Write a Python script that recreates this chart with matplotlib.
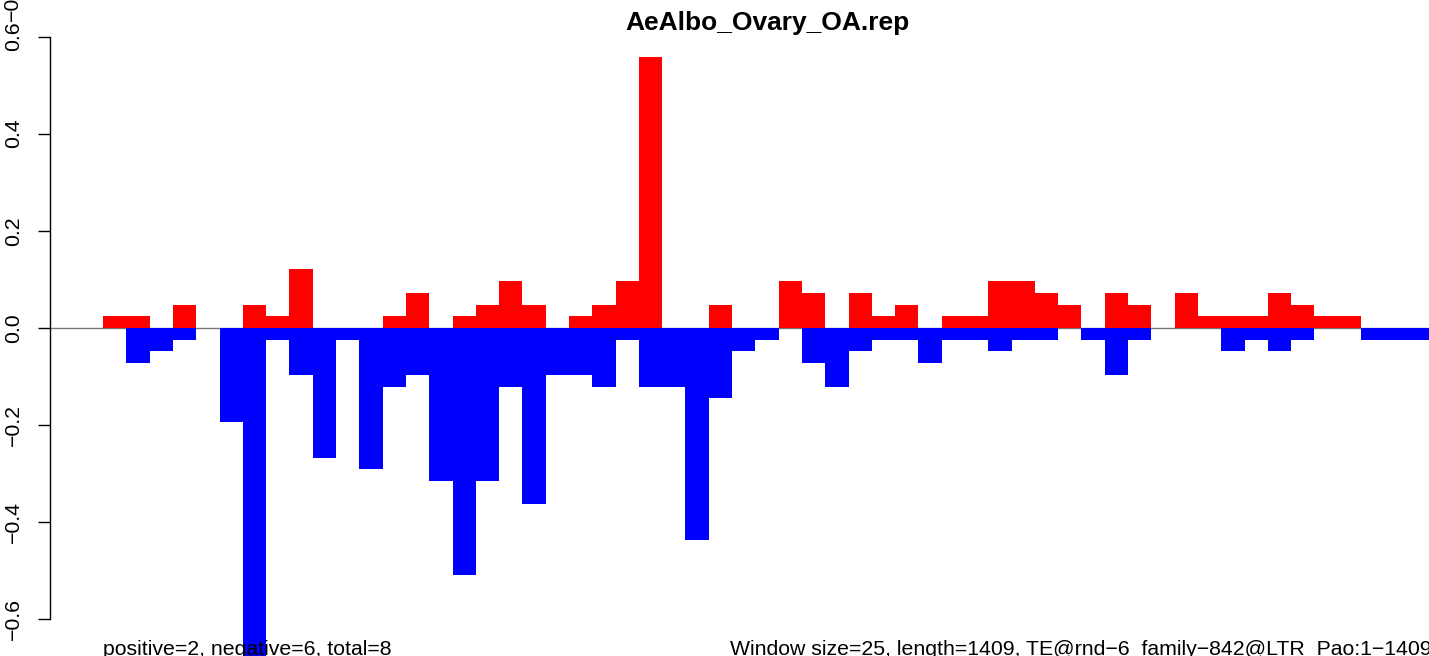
import matplotlib.pyplot as plt
import numpy as np

plt.rcParams['font.family'] = ['Liberation Sans', 'DejaVu Sans']

# window counts along the TE consensus, one value per 25 bp window
window = 25
te_length = 1409
pos_scores = [0.024, 0.024, 0, 0.048, 0, 0, 0.048, 0.024, 0.121, 0,
              0, 0, 0.024, 0.073, 0, 0.024, 0.048, 0.097, 0.048, 0,
              0.024, 0.048, 0.097, 0.557, 0, 0, 0.048, 0, 0, 0.097,
              0.073, 0, 0.073, 0.024, 0.048, 0, 0.024, 0.024, 0.097, 0.097,
              0.073, 0.048, 0, 0.073, 0.048, 0, 0.073, 0.024, 0.024, 0.024,
              0.073, 0.048, 0.024, 0.024, 0, 0, 0]
neg_scores = [0, -0.073, -0.048, -0.024, 0, -0.194, -0.70, -0.024, -0.097, -0.267,
              -0.024, -0.291, -0.121, -0.097, -0.315, -0.509, -0.315, -0.121, -0.363, -0.097,
              -0.097, -0.121, -0.024, -0.121, -0.121, -0.436, -0.145, -0.048, -0.024, 0,
              -0.073, -0.121, -0.048, -0.024, -0.024, -0.073, -0.024, -0.024, -0.048, -0.024,
              -0.024, 0, -0.024, -0.097, -0.024, 0, 0, 0, -0.048, -0.024,
              -0.048, -0.024, 0, 0, -0.024, -0.024, -0.024]
n_positive = 2
n_negative = 6
lib_name = "AeAlbo_Ovary_OA.rep"
te_name = "TE@rnd\u22126_family\u2212842@LTR_Pao:1\u22121409"
yticks = [-0.6, -0.4, -0.2, 0.0, 0.2, 0.4, 0.6]

W, H = 1429, 656
fig = plt.figure(figsize=(W / 100, H / 100), dpi=100)
# plot region runs a little past the right edge, like the original device
ax = fig.add_axes([50 / W, 0, 1434 / W, 1])

starts = np.arange(len(pos_scores)) * window
xmax = len(pos_scores) * window
pad = 0.04 * xmax

ax.axhline(0, color='#777777', lw=1, zorder=1)
ax.bar(starts, pos_scores, width=window, align='edge', color='red', linewidth=0, zorder=2)
ax.bar(starts, neg_scores, width=window, align='edge', color='blue', linewidth=0, zorder=2)

ax.set_xlim(-pad, xmax + pad)
ax.set_ylim(-0.6752, 0.6752)

for s in ['top', 'right', 'bottom']:
    ax.spines[s].set_visible(False)
ax.spines['left'].set_bounds(-0.6, 0.6)
ax.spines['left'].set_linewidth(1)
ax.set_xticks([])
ax.set_yticks(yticks)
ax.set_yticklabels([f"{v:.1f}".replace('-', '\u2212') for v in yticks],
                   rotation=90, va='center', fontsize=15.3)
ax.tick_params(axis='y', length=9, width=1, pad=10.5)

# leftover of an overlapping label above the top tick, cut by the page edge
fig.text(12.5 / W, 1 - 21 / H, '\u22120', rotation=90, ha='center', va='bottom',
         fontsize=15.3)

fig.text(767 / W, 1 - 30 / H, lib_name, ha='center', va='baseline',
         fontsize=19, fontweight='bold')
fig.text(103 / W, 1 - 655 / H,
         f"positive={n_positive}, negative={n_negative}, total={n_positive + n_negative}",
         ha='left', va='baseline', fontsize=15.3)
fig.text(730 / W, 1 - 655 / H,
         f"Window size={window}, length={te_length}, {te_name}",
         ha='left', va='baseline', fontsize=15.3)

fig.savefig('out.png', dpi=100)
